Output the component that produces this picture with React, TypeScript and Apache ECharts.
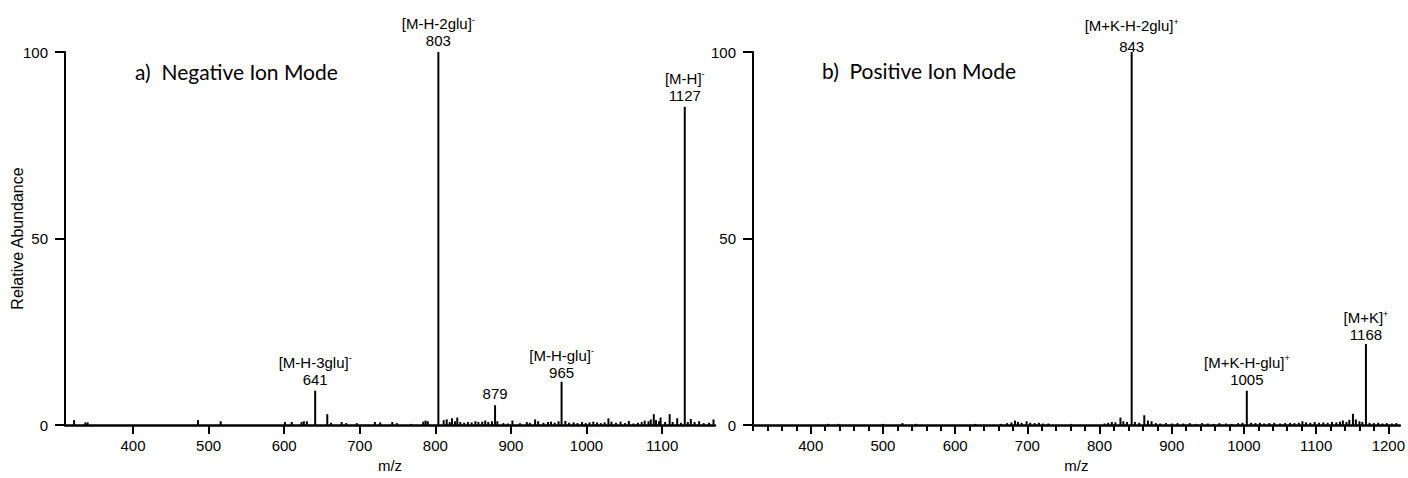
import React, { useEffect, useRef } from "react";
import * as echarts from "echarts";

// ---------- Data ----------
// a) Negative ion mode: m/z positions and relative abundance
const negMz = [
  322, 337, 340, 486, 516, 601, 610, 623, 626, 630, 641, 657, 662, 676, 682, 696, 720, 727, 743, 749,
  768, 784, 787, 790, 804, 811, 815, 819, 822, 826, 829, 833, 838, 843, 848, 853, 857, 862, 866, 870,
  875, 879, 882, 890, 896, 902, 912, 921, 925, 932, 936, 943, 949, 953, 958, 963, 967, 972, 977, 983,
  988, 994, 999, 1004, 1009, 1014, 1019, 1024, 1029, 1033, 1039, 1045, 1051, 1056, 1062, 1068, 1073,
  1077, 1082, 1085, 1089, 1092, 1096, 1098, 1104, 1110, 1114, 1120, 1125, 1130, 1134, 1138, 1143,
  1149, 1155, 1162, 1168,
];
const negInt = [
  1.3, 0.7, 0.7, 1.3, 1.0, 0.8, 0.8, 0.8, 1.0, 1.0, 9.2, 2.9, 0.6, 0.8, 0.5, 0.5, 0.8, 0.7, 0.8, 0.5,
  0.3, 0.9, 1.2, 1.0, 100, 1.3, 1.5, 0.8, 1.8, 1.0, 2.0, 0.8, 0.6, 0.8, 0.7, 1.0, 0.8, 0.9, 1.2, 0.8,
  1.0, 5.3, 1.0, 0.5, 0.4, 1.2, 0.5, 0.8, 0.6, 1.5, 1.0, 0.6, 0.8, 0.9, 0.6, 1.0, 11.6, 1.1, 0.6, 0.7,
  0.5, 0.8, 0.5, 0.7, 0.9, 0.7, 0.5, 0.7, 1.8, 0.9, 0.6, 0.9, 0.5, 1.1, 0.4, 0.6, 0.8,
  1.2, 1.0, 1.5, 2.9, 1.3, 1.0, 2.0, 0.8, 2.9, 0.8, 1.8, 0.6, 85.3, 0.8, 1.6, 0.8,
  1.0, 0.5, 0.6, 1.5,
];
const negLabelMz = [804, 1130, 641, 879, 967];
const negLabelIon = ["[M-H-2glu]", "[M-H]", "[M-H-3glu]", "", "[M-H-glu]"];
const negLabelNum = ["803", "1127", "641", "879", "965"];

// b) Positive ion mode
const posMz = [
  424, 438, 500, 527, 546, 628, 664, 672, 678, 683, 687, 692, 699, 704, 710, 716, 722, 729, 761, 807,
  812, 817, 822, 829, 833, 838, 844.5, 849, 855, 862, 867, 872, 878, 884, 892, 900, 908, 916, 925, 934,
  942, 950, 958, 966, 975, 983, 992, 998, 1004, 1010, 1016, 1022, 1028, 1035, 1042, 1050, 1057, 1064,
  1070, 1076, 1081, 1086, 1092, 1098, 1104, 1110, 1116, 1122, 1128, 1133, 1137, 1142, 1146, 1151,
  1155, 1160, 1164, 1169, 1174, 1180, 1186, 1192, 1198, 1205, 1211,
];
const posInt = [
  0.3, 0.3, 0.3, 0.5, 0.3, 0.3, 0.3, 0.5, 0.7, 1.2, 0.8, 0.6, 1.0, 0.6, 0.5, 0.6, 0.4, 0.4, 0.3, 0.4,
  0.6, 0.8, 0.7, 2.0, 1.0, 0.8, 100, 0.8, 0.6, 2.6, 1.2, 1.0, 0.5, 0.4, 0.5, 0.4, 0.5, 0.4, 0.5, 0.3,
  0.5, 0.4, 0.3, 0.5, 0.4, 0.3, 0.5, 0.6, 9.2, 0.6, 0.5, 0.6, 0.4, 0.5, 0.6, 0.4, 0.5, 0.6,
  0.5, 0.6, 1.0, 0.7, 0.6, 0.8, 0.6, 0.7, 0.6, 0.8, 0.7, 0.9, 1.2, 0.8, 1.4, 3.0,
  1.5, 1.0, 0.8, 21.7, 0.6, 0.5, 0.6, 0.4, 0.5, 0.4, 0.5,
];
const posLabelMz = [844.5, 1004, 1169];
const posLabelIon = ["[M+K-H-2glu]", "[M+K-H-glu]", "[M+K]"];
const posLabelNum = ["843", "1005", "1168"];

// Axis ticks
const negXTicks = [400, 500, 600, 700, 800, 900, 1000, 1100];
const posXTicks = [400, 500, 600, 700, 800, 900, 1000, 1100, 1200];
const posXMinorTicks = [
  320, 340, 360, 380, 420, 440, 460, 480, 520, 540, 560, 580, 620, 640, 660, 680, 720, 740, 760, 780,
  820, 840, 860, 880, 920, 940, 960, 980, 1020, 1040, 1060, 1080, 1120, 1140, 1160, 1180,
];
const yTicks = [0, 50, 100];

const titles = ["a)  Negative Ion Mode", "b)  Positive Ion Mode"];

// ---------- Chart ----------
const FONT = "'Liberation Sans', Arial, sans-serif";
const TITLE_FONT = "Lato, 'Open Sans', sans-serif";

function makeRich(spacer: number) {
  return {
    n: { fontSize: 15, fontFamily: FONT, color: "#000", lineHeight: 17 },
    s: { fontSize: 9, fontFamily: FONT, color: "#000", lineHeight: 17, verticalAlign: "top" as const },
    g: { fontSize: 1, lineHeight: spacer },
  };
}

// label layout tweaks keyed by the label's number text (styling only)
const labelStyle: Record<string, { gap: number; spacer: number }> = {
  "843": { gap: -3, spacer: 4 },
  "1168": { gap: 1, spacer: 0 },
  "965": { gap: 1, spacer: 0 },
};

function buildData(mz: number[], inten: number[], lMz: number[], lIon: string[], lNum: string[], charge: string) {
  return mz.map((m, i) => {
    const k = lMz.indexOf(m);
    const item: any = { value: [m, inten[i]] };
    if (k >= 0) {
      const st = labelStyle[lNum[k]] || { gap: 3, spacer: 0 };
      let first = lIon[k] ? `{n|${lIon[k]}}{s|${charge}}\n` : "";
      if (first && st.spacer > 0) first += `{g| }\n`;
      item.label = {
        show: true,
        position: "top",
        distance: st.gap,
        formatter: `${first}{n|${lNum[k]}}`,
        rich: makeRich(st.spacer),
      };
    }
    return item;
  });
}

function xAxisBase(gridIndex: number, min: number, max: number, ticks: number[]) {
  return {
    gridIndex,
    type: "value",
    min,
    max,
    name: "m/z",
    nameLocation: "middle",
    nameGap: 33,
    nameMoveOverlap: false,
    nameTextStyle: { fontFamily: FONT, fontSize: 15, color: "#000" },
    axisLine: { show: true, onZero: false, lineStyle: { color: "#000", width: 2.5 } },
    axisTick: { show: true, customValues: ticks, length: 9, lineStyle: { color: "#000", width: 2 } },
    axisLabel: {
      show: true,
      customValues: ticks,
      formatter: (v: number) => String(v),
      fontFamily: FONT,
      fontSize: 15,
      color: "#000",
      margin: 13,
    },
    splitLine: { show: false },
  };
}

function yAxisBase(gridIndex: number, withName: boolean) {
  return {
    gridIndex,
    type: "value",
    min: 0,
    max: 100,
    interval: 50,
    name: withName ? "Relative Abundance" : "",
    nameLocation: "middle",
    nameGap: 40,
    nameMoveOverlap: false,
    nameTextStyle: { fontFamily: FONT, fontSize: 16, color: "#000" },
    axisLine: { show: true, onZero: false, lineStyle: { color: "#000", width: 2 } },
    axisTick: { show: true, customValues: yTicks, length: 10, lineStyle: { color: "#000", width: 2 } },
    axisLabel: { show: true, fontFamily: FONT, fontSize: 15, color: "#000", margin: 17 },
    splitLine: { show: false },
  };
}

export default function App() {
  const ref = useRef<HTMLDivElement>(null);
  useEffect(() => {
    document.body.style.margin = "0";
    if (!ref.current) return;
    const chart = echarts.init(ref.current, undefined, { renderer: "svg" });
    const option: any = {
      animation: false,
      backgroundColor: "#fff",
      title: [
        {
          text: titles[0],
          left: 135,
          top: 61,
          padding: 0,
          textStyle: { fontFamily: TITLE_FONT, fontSize: 21, fontWeight: "normal", color: "#000" },
        },
        {
          text: titles[1],
          left: 822,
          top: 60,
          padding: 0,
          textStyle: { fontFamily: TITLE_FONT, fontSize: 21, fontWeight: "normal", color: "#000" },
        },
      ],
      grid: [
        { left: 65, top: 52, width: 650, height: 374 },
        { left: 753, top: 52, width: 650, height: 374 },
      ],
      xAxis: [
        xAxisBase(0, 310, 1170, negXTicks),
        xAxisBase(1, 320, 1216, posXTicks),
        {
          gridIndex: 1,
          type: "value",
          min: 320,
          max: 1216,
          position: "bottom",
          axisLine: { show: false, onZero: false },
          axisTick: { show: true, customValues: posXMinorTicks, length: 6, lineStyle: { color: "#000", width: 2 } },
          axisLabel: { show: false },
          splitLine: { show: false },
        },
      ],
      yAxis: [yAxisBase(0, true), yAxisBase(1, false)],
      series: [
        {
          type: "bar",
          xAxisIndex: 0,
          yAxisIndex: 0,
          barWidth: 2,
          itemStyle: { color: "#000" },
          data: buildData(negMz, negInt, negLabelMz, negLabelIon, negLabelNum, "-"),
        },
        {
          type: "bar",
          xAxisIndex: 1,
          yAxisIndex: 1,
          barWidth: 2,
          itemStyle: { color: "#000" },
          data: buildData(posMz, posInt, posLabelMz, posLabelIon, posLabelNum, "+"),
        },
      ],
    };
    chart.setOption(option);
    return () => chart.dispose();
  }, []);
  return <div ref={ref} style={{ width: 1408, height: 478 }} />;
}
